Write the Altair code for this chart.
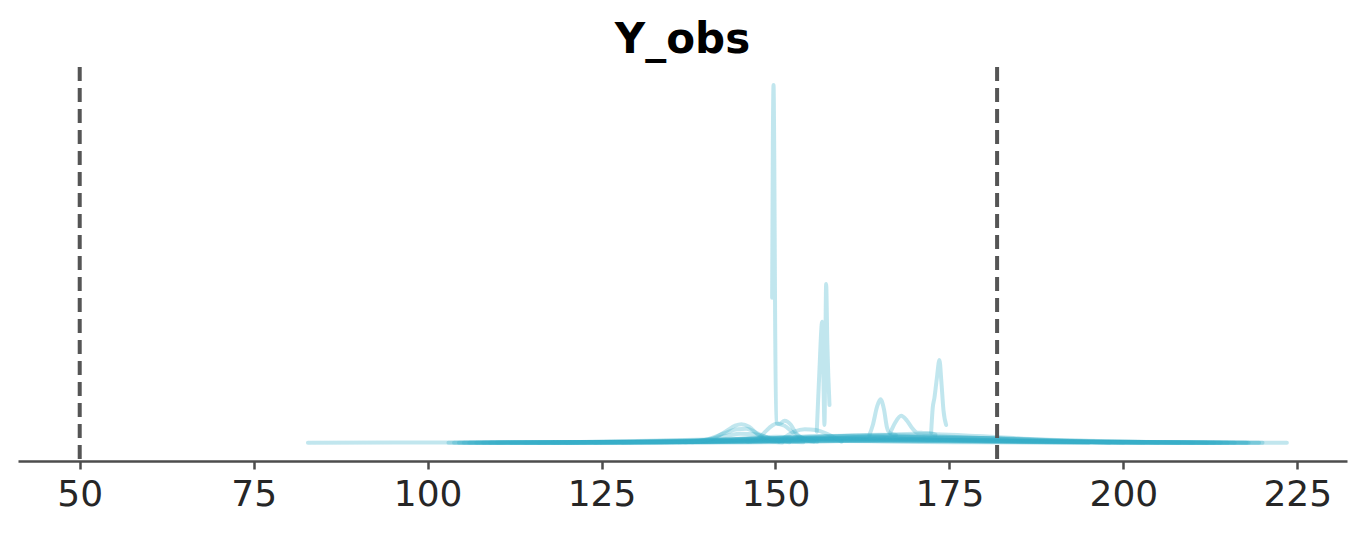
import altair as alt
import pandas as pd

# ---- data: KDE curves (x = Y_obs value, y = relative density height) ----
wide_light = ([82.8, 95, 110, 125, 140, 150, 160, 170, 180, 195, 210, 223.5],
              [0, 0.1, 0.3, 0.7, 1.2, 1.5, 1.6, 1.5, 1.2, 0.6, 0.2, 0])
broad_01 = ([103.0, 115, 130, 145, 160, 175, 190, 205, 220.0], [0, 0.2, 0.6, 1.3, 2.0, 1.7, 1.0, 0.3, 0])
broad_02 = ([103.8, 118, 133, 150, 165, 180, 195, 208, 219.5], [0, 0.3, 0.9, 2.0, 3.0, 2.4, 1.2, 0.4, 0])
broad_03 = ([104.5, 118, 132, 146, 158, 172, 188, 203, 218.0], [0, 0.4, 1.3, 2.9, 4.0, 3.1, 1.4, 0.4, 0])
broad_04 = ([105.2, 122, 138, 155, 170, 185, 200, 210, 217.7], [0, 0.2, 0.6, 1.6, 2.5, 2.0, 0.9, 0.3, 0])
broad_05 = ([106, 120, 133, 145, 155, 167, 180, 198, 216], [0, 0.5, 1.6, 3.5, 5.0, 3.9, 1.9, 0.4, 0])
broad_06 = ([107, 122, 137, 150, 162, 175, 190, 204, 215], [0, 0.3, 1.1, 2.5, 3.5, 2.8, 1.3, 0.3, 0])
broad_07 = ([108, 125, 142, 156, 168, 180, 193, 205, 214], [0, 0.4, 1.5, 4.0, 6.0, 4.6, 2.0, 0.5, 0])
broad_08 = ([109, 120, 132, 142, 150, 160, 172, 190, 213], [0, 0.5, 1.9, 3.5, 4.5, 3.6, 1.8, 0.4, 0])
broad_09 = ([110, 130, 148, 162, 172, 182, 193, 203, 212], [0, 0.3, 1.3, 3.8, 5.5, 4.4, 2.1, 0.6, 0])
broad_10 = ([112, 126, 139, 150, 160, 170, 181, 195, 210], [0, 0.5, 2.0, 4.8, 7.0, 5.2, 2.4, 0.5, 0])
broad_11 = ([114, 130, 143, 155, 165, 175, 186, 197, 208], [0, 0.4, 2.0, 5.3, 8.0, 6.0, 2.8, 0.7, 0])
broad_12 = ([116, 128, 139, 149, 157, 166, 176, 190, 205], [0, 0.5, 2.0, 4.5, 6.5, 4.8, 2.2, 0.5, 0])
broad_13 = ([118, 135, 150, 161, 170, 179, 188, 196, 203], [0, 0.3, 1.8, 5.5, 9.0, 6.7, 3.0, 0.8, 0])
broad_14 = ([120, 135, 147, 156, 163, 171, 180, 190, 200], [0, 0.5, 2.2, 5.0, 7.5, 5.5, 2.5, 0.6, 0])
broad_15 = ([124, 142, 157, 167, 175, 183, 190, 195, 198], [0, 0.3, 1.3, 3.2, 5.0, 3.7, 1.7, 0.6, 0])
broad_16 = ([128, 136, 142, 146, 150, 155, 162, 178, 195], [0, 0.6, 2.2, 4.5, 6.0, 4.4, 2.0, 0.4, 0])

bump_145a = ([138, 141, 143, 144.2, 145.1, 146.2, 147.5, 149, 151], [0.5, 4, 12, 17, 18.4, 16, 8, 2, 0.3])
bump_145b = ([137, 140, 142.5, 144.5, 145.8, 147.5, 149.5, 152], [0.5, 3, 9, 13.5, 14, 9, 3, 0.5])
bump_145c = ([136, 140, 143, 145, 147, 149, 151, 154], [0.5, 3, 7, 9, 8.5, 5, 2, 0.5])
bump_150 = ([146.0, 147.5, 148.4, 149.5, 150.1, 151.3, 152.5, 154, 156], [1, 4, 10, 17, 19, 17, 10, 4, 1])
spike_150 = ([149.52, 149.62, 149.72, 149.82, 149.95, 150.1, 150.6, 151.3, 152.2, 152.9, 154.0, 155.5],
             [145, 300, 357.7, 290, 120, 20, 19, 22, 18, 10, 4, 1])
bump_154 = ([150.5, 152.7, 154.2, 155.8, 156.6, 157.8, 159.5], [1, 11, 13.4, 12.7, 11, 7.7, 1])
spike_157 = ([155.93, 156.3, 156.71, 156.9, 157.04, 157.15, 157.28, 157.45, 157.76],
             [11, 70, 121, 60, 17.7, 80, 158.7, 100, 37.7])
bump_165 = ([163.5, 164.0, 164.6, 165.09, 165.6, 166.0, 166.4, 167.3], [7.7, 18, 36, 43.4, 33, 16, 9.7, 7.7])
bump_168 = ([166.48, 167.2, 168.06, 168.9, 169.7, 170.4, 171.2, 172.1, 173.0],
            [9.7, 20, 27, 22, 14, 10, 9.8, 9.7, 8])
spike_173 = ([172.37, 172.6, 172.84, 173.2, 173.56, 173.85, 174.14, 174.53],
             [10, 35, 44.7, 65, 82.7, 60, 32.7, 17.7])

curves = {
    "wide_light": wide_light,
    "broad_01": broad_01, "broad_02": broad_02, "broad_03": broad_03, "broad_04": broad_04,
    "broad_05": broad_05, "broad_06": broad_06, "broad_07": broad_07, "broad_08": broad_08,
    "broad_09": broad_09, "broad_10": broad_10, "broad_11": broad_11, "broad_12": broad_12,
    "broad_13": broad_13, "broad_14": broad_14, "broad_15": broad_15, "broad_16": broad_16,
    "bump_145a": bump_145a, "bump_145b": bump_145b, "bump_145c": bump_145c, "bump_150": bump_150,
    "spike_150": spike_150, "bump_154": bump_154, "spike_157": spike_157, "bump_165": bump_165,
    "bump_168": bump_168, "spike_173": spike_173,
}

reference_lines = [50, 181.85]
x_ticks = [50, 75, 100, 125, 150, 175, 200, 225]

rows = []
for k, (name, (xs, ys)) in enumerate(curves.items()):
    for i, (xv, yv) in enumerate(zip(xs, ys)):
        rows.append({"curve": f"{k:02d}_{name}", "x": xv, "y": yv, "idx": i})
df = pd.DataFrame(rows)

x_scale = alt.Scale(domain=[41.13, 232.14], nice=False, zero=False)
y_scale = alt.Scale(domain=[-18.3, 375.7], nice=False, zero=False)

lines = alt.Chart(df).mark_line(
    color="#36adc7", opacity=0.31, strokeWidth=4, strokeCap="round", strokeJoin="round",
    interpolate="monotone",
).encode(
    x=alt.X("x:Q", scale=x_scale, title=None,
            axis=alt.Axis(values=x_ticks, format="d", grid=False, domainColor="#4d4d4d",
                          domainWidth=2.5, tickColor="#4d4d4d", tickWidth=2.5, tickSize=8,
                          labelFont="DejaVu Sans", labelFontSize=36, labelColor="#262626",
                          labelPadding=8)),
    y=alt.Y("y:Q", scale=y_scale, axis=None),
    detail="curve:N",
    order="idx:Q",
)

rules = alt.Chart(pd.DataFrame({"x": reference_lines})).mark_rule(
    color="#555555", strokeWidth=4, strokeDash=[14, 7]
).encode(x=alt.X("x:Q", scale=x_scale))

chart = alt.layer(lines, rules).properties(
    width=1329, height=394,
    title=alt.TitleParams("Y_obs", font="DejaVu Sans", fontSize=42, fontWeight="bold",
                          color="black", anchor="middle", baseline="alphabetic", offset=15,
                          dy=45),
    autosize=alt.AutoSizeParams(type="none"),
    padding={"left": 10, "top": 59, "right": 11, "bottom": 67},
).configure_view(stroke=None)

chart.save("out.html", embed_options={"renderer": "svg", "actions": False})
